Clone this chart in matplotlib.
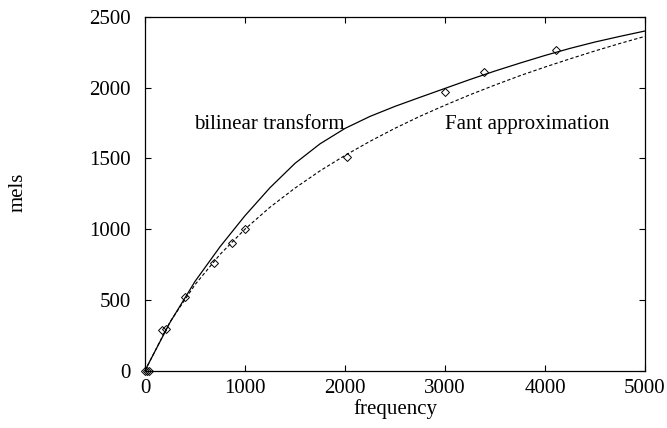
import matplotlib
matplotlib.use("Agg")
import matplotlib.pyplot as plt

plt.rcParams['font.family'] = ['Liberation Serif', 'DejaVu Serif']

# curve samples (Hz -> mels)
freq = [0, 250, 500, 750, 1000, 1250, 1500, 1750, 2000, 2250, 2500,
        2750, 3000, 3250, 3500, 3750, 4000, 4250, 4500, 4750, 5000]
mel_bilinear = [0, 340, 630, 875, 1095, 1293, 1465, 1603, 1712, 1797, 1868,
                1932, 1995, 2058, 2118, 2174, 2228, 2278, 2323, 2363, 2401]
mel_fant = [0, 344, 607, 821, 1000, 1155, 1290, 1412, 1521, 1621, 1713,
            1798, 1876, 1950, 2019, 2085, 2146, 2204, 2260, 2313, 2363]

# measured mel points
pt_freq = [0, 20, 40, 170, 210, 400, 690, 867, 1000, 2017, 3000, 3393, 4110]
pt_mel = [0, 0, 0, 285, 296, 522, 762, 904, 1003, 1508, 1967, 2109, 2267]

fig = plt.figure(figsize=(6.67, 4.28), dpi=100)
ax = fig.add_axes([0.2174, 0.1343, 0.7496, 0.826])

ax.plot(freq, mel_bilinear, color='black', linewidth=0.9)
ax.plot(freq, mel_fant, color='black', linewidth=0.8, linestyle=(0, (3, 2)))
ax.plot(pt_freq, pt_mel, linestyle='none', marker='D', markersize=4,
        markerfacecolor='none', markeredgecolor='black', markeredgewidth=0.7,
        clip_on=False)

ax.set_xlim(0, 5000)
ax.set_ylim(0, 2500)
ax.set_xticks(range(0, 5001, 1000))
ax.set_yticks(range(0, 2501, 500))
ax.tick_params(direction='in', length=4, width=0.8, labelsize=15,
               top=True, right=True)
ax.tick_params(axis='x', pad=6)
ax.tick_params(axis='y', pad=10)
for s in ax.spines.values():
    s.set_linewidth(0.9)

ax.set_xlabel('frequency', fontsize=15, labelpad=1)
fig.text(0.027, 0.55, 'mels', rotation=90, fontsize=15, ha='center', va='center')

ax.text(1240, 1743, 'bilinear transform', fontsize=15, ha='center', va='center')
ax.text(3820, 1743, 'Fant approximation', fontsize=15, ha='center', va='center')

fig.savefig('out.png', dpi=100)
